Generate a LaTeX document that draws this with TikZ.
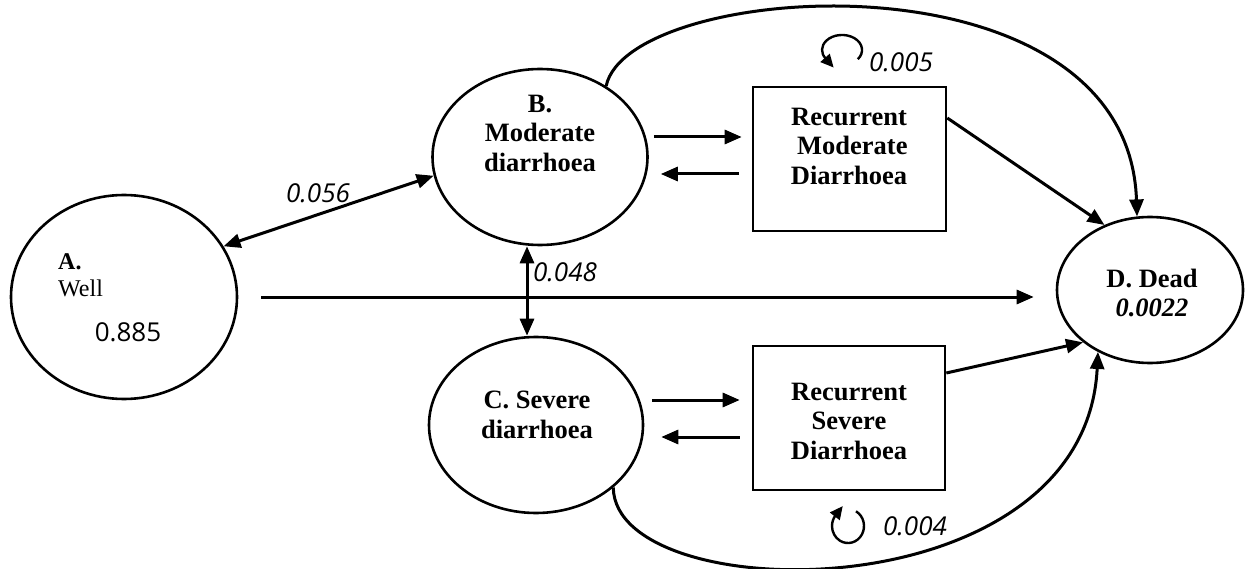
\documentclass[tikz,border=0pt]{standalone}
\usepackage{fontspec}
\setmainfont{Liberation Serif}
\newfontfamily\labfont{Open Sans}
\usetikzlibrary{shapes.geometric,arrows.meta,calc}
\begin{document}
\begin{tikzpicture}[x=1pt,y=-1pt,
  st/.style={draw,ellipse,line width=2.6pt,inner sep=0pt},
  bx/.style={draw,rectangle,line width=2.6pt,inner sep=0pt},
  tx/.style={font=\fontsize{26.5}{29.5}\selectfont\bfseries,align=center,inner sep=0pt},
  lab/.style={font=\fontsize{26}{30}\selectfont\labfont\itshape,inner sep=0pt},
  tip/.tip={Triangle[length=17pt,width=14pt]},
  ar/.style={line width=3pt,-tip},
  dar/.style={line width=3pt,tip-tip},
  loopar/.style={line width=2.4pt,-{Triangle[length=13pt,width=12pt]}},
  ]
\useasboundingbox (0,0) rectangle (1252,569);
% states
\node[st,minimum width=226pt,minimum height=204pt] (A) at (124,297) {};
\node[st,minimum width=215pt,minimum height=176pt] (B) at (540,157) {};
\node[st,minimum width=214pt,minimum height=176pt] (C) at (536,425) {};
\node[st,minimum width=186pt,minimum height=146pt] (D) at (1150,290) {};
\node[bx,minimum width=193pt,minimum height=144pt] (RM) at (849.5,159) {};
\node[bx,minimum width=192pt,minimum height=144pt] (RS) at (849,418) {};
% texts
\node[anchor=west,font=\fontsize{24}{27}\selectfont\bfseries,inner sep=0pt] (Aa) at (58,262) {A.};
\node[anchor=west,font=\fontsize{24}{27}\selectfont,inner sep=0pt] (Aw) at (58,288) {Well};
\node[font=\fontsize{26}{30}\selectfont\labfont,inner sep=0pt] (An) at (128,332) {0.885};
\node[tx] (Bt) at (540,133) {B.\\Moderate\\diarrhoea};
\node[tx] (Ct) at (537,415) {C. Severe\\diarrhoea};
\node[tx] (RMt) at (849,146) {Recurrent\\\ Moderate\\Diarrhoea};
\node[tx] (RSt) at (849,421) {Recurrent\\Severe\\Diarrhoea};
\node[tx] (Dt) at (1152,293) {D. Dead\\\textit{0.0022}};
% connectors
\draw[dar] (A.27) -- (B.190);
\node[lab] (l1) at (318,193) {0.056};
\coordinate (bc) at (527,0);
\draw[dar] (B.south -| bc) -- (C.north -| bc);
\node[lab] (l2) at (565,272) {0.048};
\draw[ar,shorten <=23pt,shorten >=22pt] (A.east) -- (A.east -| D.west);
\draw[ar] ($(B.east)+(5,-20)$) -- ($(RM.west)+(-10,-22)$);
\draw[ar] ($(RM.west)+(-13,15)$) -- ($(B.east)+(12,17)$);
\draw[ar] ($(C.east)+(8,-25)$) -- ($(RS.west)+(-12,-18)$);
\draw[ar] ($(RS.west)+(-12,19)$) -- ($(C.east)+(17,12)$);
\draw[ar] ($(RM.east)+(0,-41)$) -- (D.125);
\draw[ar] ($(RS.east)+(0,-45)$) -- (D.-142);
\draw[ar] (B.47) .. controls (628,-20) and (1128,-55) .. (D.100);
\draw[ar] (C.-39) .. controls (615,610) and (1085,615) .. (D.-130);
% self loops
\coordinate (L1) at (842,50);
\draw[loopar] ($(L1)+(15.8,9.2)$) arc[start angle=38, end angle=-215, x radius=20, y radius=15] -- ++(8,9);
\node[lab] (l3) at (901,62) {0.005};
\coordinate (L2) at (848,526);
\draw[loopar] ($(L2)+(8,-14.7)$) arc[start angle=-60, end angle=220, x radius=16, y radius=17] -- ++(7,-9);
\node[lab] (l4) at (915,526) {0.004};
\end{tikzpicture}
\end{document}
